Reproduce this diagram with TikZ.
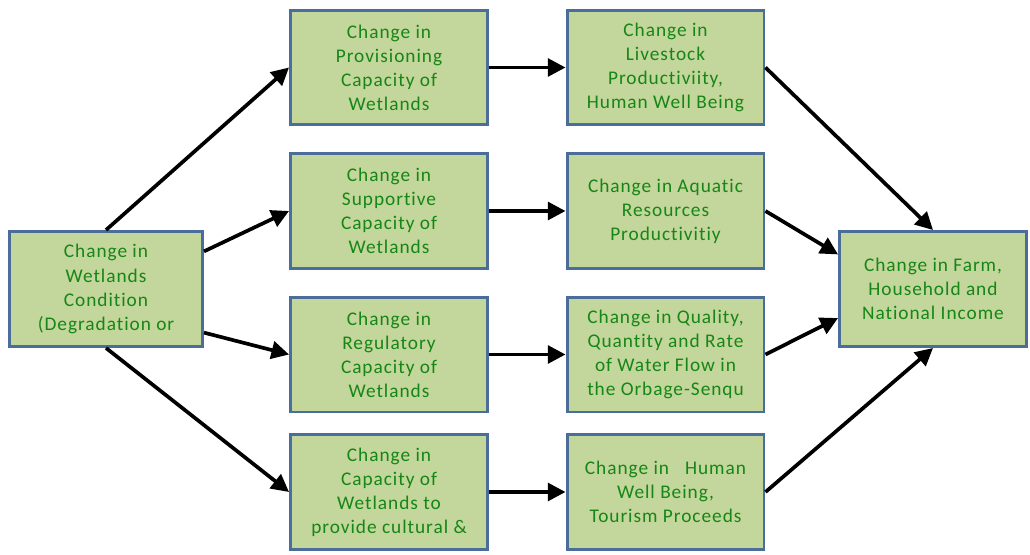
\documentclass[tikz,border=0pt]{standalone}
\usepackage{fontspec}
\setmainfont{Carlito}[LetterSpace=5, Ligatures={NoCommon, NoRequired, NoContextual}]
\usetikzlibrary{arrows.meta, positioning}

\definecolor{boxfill}{RGB}{195,214,155}
\definecolor{boxline}{RGB}{74,109,154}
\definecolor{boxtext}{RGB}{22,134,22}

\tikzset{
    effect/.style={draw=boxline, line width=1.7pt, fill=boxfill, text=boxtext,
        align=center, inner sep=2pt, minimum width=3.94cm, minimum height=2.3cm,
        font=\fontsize{11}{13.7}\selectfont},
    link/.style={-{Triangle[length=10pt, width=10pt]}, line width=2.1pt, black}
}

\begin{document}
\begin{tikzpicture}[x=0.02cm, y=-0.02cm]
        \useasboundingbox (0,0) rectangle (1030,554);

        \node[effect, minimum width=3.86cm] (wet) at (106,289) {Change in\\Wetlands\\Condition\\(Degradation or};

        \node[effect] (prov) at (389,67.5) {Change in\\Provisioning\\Capacity of\\Wetlands};
        \node[effect] (supp) at (389,211) {Change in\\Supportive\\Capacity of\\Wetlands};
        \node[effect] (regu) at (389,354.5) {Change in\\Regulatory\\Capacity of\\Wetlands};
        \node[effect] (cult) at (389,492) {Change in\\Capacity of\\Wetlands to\\provide cultural \&};

        \node[effect] (live) at (665.5,67.5) {Change in\\Livestock\\Productiviity,\\Human Well Being};
        \node[effect] (aqua) at (665.5,211) {Change in Aquatic\\Resources\\Productivitiy};
        \node[effect] (flow) at (665.5,354.5) {Change in Quality,\\Quantity and Rate\\of Water Flow in\\the Orbage-Senqu};
        \node[effect] (tour) at (665.5,492) {Change in\ \ \ Human\\Well Being,\\Tourism Proceeds};

        \node[effect, minimum width=3.74cm] (income) at (933,289) {Change in Farm,\\Household and\\National Income};

        \draw[link] (wet.north) -- (prov.west);
        \draw[link] (wet.21) -- (supp.west);
        \draw[link] (wet.-24) -- (regu.west);
        \draw[link] (wet.south) -- (cult.west);

        \draw[link] (prov) -- (live);
        \draw[link] (supp) -- (aqua);
        \draw[link] (regu) -- (flow);
        \draw[link] (cult) -- (tour);

        \draw[link] (live.east) -- (income.north);
        \draw[link] (aqua.east) -- (income.160);
        \draw[link] (flow.east) -- (income.197);
        \draw[link] (tour.east) -- (income.south);
\end{tikzpicture}
\end{document}
